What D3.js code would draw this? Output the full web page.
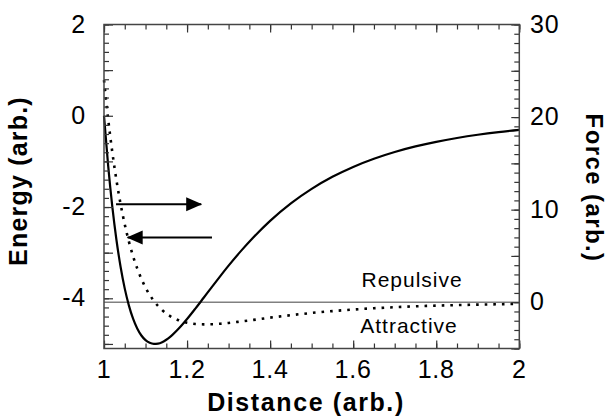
<!DOCTYPE html>
<html><head><meta charset="utf-8">
<script src="https://cdn.jsdelivr.net/npm/d3@7"></script>
<style>
html,body{margin:0;padding:0;background:#fff;}
text{font-family:Arial,"Liberation Sans",Helvetica,sans-serif;fill:#000;}
</style></head>
<body>
<svg id="c" width="610" height="417"></svg>
<script>
// Data
const distance = [1.00,1.01,1.02,1.03,1.04,1.05,1.06,1.07,1.08,1.09,1.10,1.11,1.12,1.13,1.14,1.15,1.16,1.18,1.20,1.22,1.24,1.26,1.28,1.30,1.33,1.36,1.40,1.45,1.50,1.55,1.60,1.65,1.70,1.75,1.80,1.85,1.90,1.95,2.00];
const energy = [0,-1.092,-1.990,-2.722,-3.314,-3.788,-4.160,-4.447,-4.661,-4.815,-4.917,-4.976,-4.999,-4.992,-4.961,-4.908,-4.840,-4.664,-4.455,-4.226,-3.988,-3.749,-3.514,-3.285,-2.961,-2.662,-2.303,-1.920,-1.602,-1.338,-1.121,-0.942,-0.794,-0.672,-0.571,-0.487,-0.416,-0.357,-0.308];
const force = [24.0,19.79,16.21,13.17,10.59,8.40,6.54,4.97,3.65,2.53,1.59,0.80,0.14,-0.40,-0.85,-1.22,-1.52,-1.95,-2.21,-2.35,-2.39,-2.38,-2.32,-2.24,-2.08,-1.91,-1.67,-1.40,-1.16,-0.96,-0.79,-0.65,-0.54,-0.44,-0.37,-0.31,-0.26,-0.22,-0.18];
const xTickLabels = [1,1.2,1.4,1.6,1.8,2];
const energyTickLabels = [2,0,-2,-4];
const forceTickLabels = [30,20,10,0];
const regionLabels = [{text:"Repulsive", x:1.62, y:-3.75},{text:"Attractive", x:1.617, y:-4.76}];
const arrows = [{x1:1.029, x2:1.234, y:-1.94},{x1:1.26, x2:1.057, y:-2.67}];

const svg = d3.select("#c");
const L=104, R=519.3, T=24.5, B=348.5;
const x = d3.scaleLinear().domain([1,2]).range([L,R]);
const yE = d3.scaleLinear().domain([-5.1,2]).range([B,T]);
const yF = d3.scaleLinear().domain([-5,30]).range([B,T]);

svg.append("defs").append("marker").attr("id","ah")
  .attr("markerUnits","userSpaceOnUse").attr("markerWidth",18).attr("markerHeight",16)
  .attr("viewBox","0 -8 16 16").attr("refX",15).attr("refY",0).attr("orient","auto")
  .append("path").attr("d","M0,-7L16,0L0,7Z").attr("fill","#000");

// zero force line
svg.append("line").attr("x1",L).attr("x2",R).attr("y1",yF(0)).attr("y2",yF(0))
  .attr("stroke","#808080").attr("stroke-width",1.5);

// curves
const pts = distance.map((d,i)=>({d, e:energy[i], f:force[i]}));
svg.append("path").datum(pts)
  .attr("d", d3.line().x(p=>x(p.d)).y(p=>yE(p.e)).curve(d3.curveMonotoneX))
  .attr("fill","none").attr("stroke","#000").attr("stroke-width",2.2);
svg.append("path").datum(pts)
  .attr("d", d3.line().x(p=>x(p.d)).y(p=>yF(p.f)).curve(d3.curveMonotoneX))
  .attr("fill","none").attr("stroke","#000").attr("stroke-width",2.6).attr("stroke-dasharray","2.6,6");

// axes
function ticks(axisGen, transform){
  const g = svg.append("g").attr("transform",transform).call(axisGen);
  g.selectAll(".domain").remove();
  g.selectAll("line").attr("stroke","#333").attr("stroke-width",1.2);
  g.selectAll("text").remove();
  return g;
}
const xMinor = d3.range(0,21).map(i=>1+i*0.05);
const xMajor = d3.range(0,6).map(i=>1+i*0.2);
ticks(d3.axisTop(x).tickValues(xMinor).tickSize(5), `translate(0,${B})`);
ticks(d3.axisTop(x).tickValues(xMajor).tickSize(8), `translate(0,${B})`);
ticks(d3.axisBottom(x).tickValues(xMinor).tickSize(5), `translate(0,${T})`);
ticks(d3.axisBottom(x).tickValues(xMajor).tickSize(8), `translate(0,${T})`);
const eMinor = d3.range(0,36).map(i=>-5+i*0.2);
const eMajor = [-5,-4,-3,-2,-1,0,1,2];
ticks(d3.axisRight(yE).tickValues(eMinor).tickSize(5), `translate(${L},0)`);
ticks(d3.axisRight(yE).tickValues(eMajor).tickSize(9), `translate(${L},0)`);
const fMinor = d3.range(-5,31);
const fMajor = [-5,0,5,10,15,20,25,30];
ticks(d3.axisLeft(yF).tickValues(fMinor).tickSize(5), `translate(${R},0)`);
ticks(d3.axisLeft(yF).tickValues(fMajor).tickSize(8), `translate(${R},0)`);

// frame
svg.append("rect").attr("x",L).attr("y",T).attr("width",R-L).attr("height",B-T)
  .attr("fill","none").attr("stroke","#444").attr("stroke-width",1.5);

// tick labels
svg.append("g").selectAll("text").data(xTickLabels).join("text")
  .attr("x",d=>x(d)).attr("y",378).attr("text-anchor","middle")
  .attr("font-size",25).attr("letter-spacing",0.8).text(d=>d);
svg.append("g").selectAll("text").data(energyTickLabels).join("text")
  .attr("x",86).attr("y",d=>yE(d)+8).attr("text-anchor","end")
  .attr("font-size",25).attr("letter-spacing",0.8).text(d=>d);
svg.append("g").selectAll("text").data(forceTickLabels).join("text")
  .attr("x",530).attr("y",d=>yF(d)+8).attr("text-anchor","start")
  .attr("font-size",25).attr("letter-spacing",0.8).text(d=>d);

// titles
svg.append("text").attr("x",306).attr("y",411).attr("text-anchor","middle")
  .attr("font-size",25).attr("font-weight","bold").attr("letter-spacing",1.6).text("Distance (arb.)");
svg.append("text").attr("transform","translate(27,181) rotate(-90)").attr("text-anchor","middle")
  .attr("font-size",25).attr("font-weight","bold").attr("letter-spacing",1.2).text("Energy (arb.)");
svg.append("text").attr("transform","translate(586,188) rotate(90)").attr("text-anchor","middle")
  .attr("font-size",24).attr("font-weight","bold").attr("letter-spacing",1.4).text("Force (arb.)");

// region labels
svg.append("g").selectAll("text").data(regionLabels).join("text")
  .attr("x",d=>x(d.x)).attr("y",d=>yE(d.y)).attr("font-size",21).attr("letter-spacing",1).text(d=>d.text);

// arrows
svg.append("g").selectAll("line").data(arrows).join("line")
  .attr("x1",d=>x(d.x1)).attr("x2",d=>x(d.x2)).attr("y1",d=>yE(d.y)).attr("y2",d=>yE(d.y))
  .attr("stroke","#000").attr("stroke-width",2).attr("marker-end","url(#ah)");
</script>
</body></html>
